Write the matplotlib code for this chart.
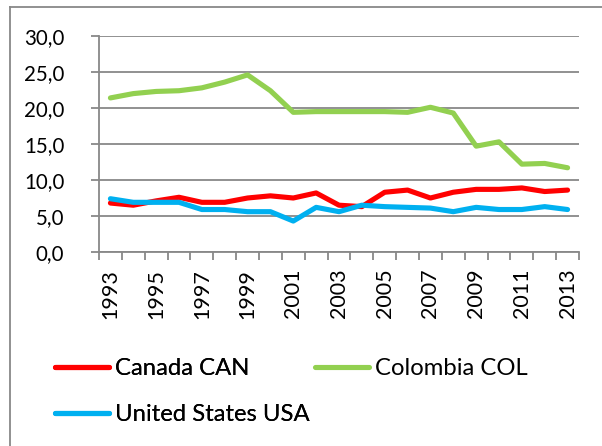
import matplotlib
matplotlib.use("Agg")
import matplotlib.pyplot as plt
from matplotlib.lines import Line2D
import numpy as np

years = list(range(1993, 2014))
canada = [6.8, 6.5, 7.1, 7.6, 6.9, 6.9, 7.5, 7.8, 7.5, 8.2, 6.5, 6.3, 8.3, 8.6, 7.5, 8.3, 8.7, 8.7, 8.9, 8.4, 8.6]
colombia = [21.4, 22.0, 22.3, 22.4, 22.8, 23.6, 24.6, 22.4, 19.4, 19.5, 19.5, 19.5, 19.5, 19.4, 20.1, 19.3, 14.7, 15.3, 12.2, 12.3, 11.7]
usa = [7.4, 6.9, 6.9, 6.9, 5.9, 5.9, 5.6, 5.6, 4.3, 6.2, 5.6, 6.5, 6.3, 6.2, 6.1, 5.6, 6.2, 5.9, 5.9, 6.3, 5.9]
series_names = ["Canada CAN", "Colombia COL", "United States USA"]
y_ticks = [0, 5, 10, 15, 20, 25, 30]
y_tick_labels = ["0,0", "5,0", "10,0", "15,0", "20,0", "25,0", "30,0"]

plt.rcParams['font.family'] = ['Lato', 'DejaVu Sans']
FS = 14.8
FS_X = 15.5
FS_LEG = 17.2
grid_c = "#888888"

fig = plt.figure(figsize=(6.02, 4.46), dpi=100)
W, H = 602, 446
ax = fig.add_axes([99 / W, 1 - 252 / H, 480 / W, 216 / H])

x = np.arange(len(years))
colors = ["#FF0000", "#92D050", "#00B0F0"]
lines = []
for vals, c, name in zip([canada, colombia, usa], colors, series_names):
    ln, = ax.plot(x, vals, color=c, lw=3.7, solid_capstyle='round', solid_joinstyle='round', label=name, zorder=3)
    lines.append(ln)

ax.set_xlim(-0.5, len(years) - 0.5)
ax.set_ylim(0, 30)
ax.set_yticks(y_ticks)
ax.set_yticklabels(y_tick_labels, fontsize=FS)
ax.yaxis.grid(True, color=grid_c, lw=1.3)
ax.set_axisbelow(True)

ax.set_xticks(x[::2])
ax.set_xticklabels([str(y) for y in years[::2]], rotation=90, fontsize=FS_X)
ax.set_xticks(np.arange(-0.5, len(years)), minor=True)
ax.tick_params(axis='x', which='major', length=0, pad=12)
ax.tick_params(axis='x', which='minor', length=5.5, width=1.3, color=grid_c, direction='out')
ax.tick_params(axis='y', length=6, width=1.3, color=grid_c, pad=19)

for s in ['top', 'right']:
    ax.spines[s].set_visible(False)
for s in ['left', 'bottom']:
    ax.spines[s].set_color(grid_c)
    ax.spines[s].set_linewidth(1.3)

# figure border (left and top)
fig.add_artist(Line2D([9.5 / W, 9.5 / W], [0, 1 - 6.5 / H], transform=fig.transFigure, color="#888888", lw=1.3))
fig.add_artist(Line2D([9.5 / W, 1], [1 - 6.5 / H, 1 - 6.5 / H], transform=fig.transFigure, color="#888888", lw=1.3))

leg_kw = dict(frameon=False, fontsize=FS_LEG, handlelength=2.25, handletextpad=0.25, labelspacing=1.05,
              borderpad=0, borderaxespad=0)
leg1 = fig.legend([lines[0], lines[2]], [series_names[0], series_names[2]], loc='upper left',
                  bbox_to_anchor=(55 / W, 1 - 358 / H), **leg_kw)
fig.add_artist(leg1)
leg2 = fig.legend([lines[1]], [series_names[1]], loc='upper left',
                  bbox_to_anchor=(315 / W, 1 - 358 / H), **leg_kw)

fig.savefig("out.png", dpi=100)
